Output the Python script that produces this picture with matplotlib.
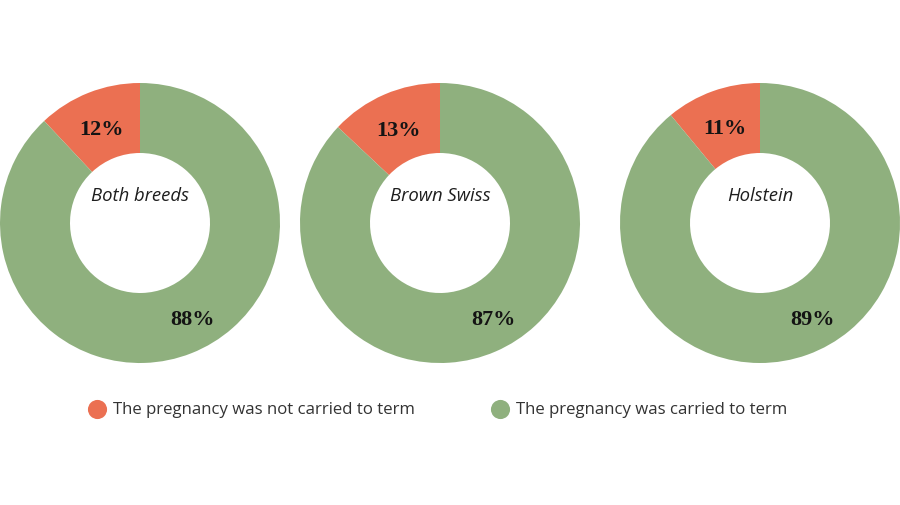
import numpy as np
import matplotlib.pyplot as plt

# share of pregnancies per breed group (percent)
groups = ['Both breeds', 'Brown Swiss', 'Holstein']
not_carried = [12, 13, 11]
carried = [88, 87, 89]
legend_labels = ['The pregnancy was not carried to term', 'The pregnancy was carried to term']

orange = '#EB7052'
green = '#8FB07E'

W, H = 900, 506
fig = plt.figure(figsize=(W / 100, H / 100), dpi=100)
fig.patch.set_facecolor('white')

centers_x = [140, 440, 760]
center_y = 224
R = 140  # outer radius in px

for i, name in enumerate(groups):
    cx = centers_x[i]
    ax = fig.add_axes([(cx - R) / W, (H - center_y - R) / H, 2 * R / W, 2 * R / H])
    vals = [not_carried[i], carried[i]]
    ax.pie(vals, colors=[orange, green], startangle=90, counterclock=True,
           radius=1, wedgeprops=dict(width=0.5, linewidth=0))
    ax.set_xlim(-1, 1)
    ax.set_ylim(-1, 1)
    ax.set_aspect('equal')
    ax.axis('off')

    # small slice label at its middle angle
    a = np.deg2rad(90 + not_carried[i] / 100 * 360 / 2)
    ax.text(0.75 * np.cos(a), 0.72 * np.sin(a), f'{not_carried[i]}%',
            ha='center', va='center', fontsize=16, fontweight='bold',
            family='Liberation Serif', color='#141414')
    # large slice label, lower right of the ring
    a = np.deg2rad(-61)
    ax.text(0.78 * np.cos(a), 0.78 * np.sin(a), f'{carried[i]}%',
            ha='center', va='center', fontsize=16, fontweight='bold',
            family='Liberation Serif', color='#141414')

    ax.text(0, 0.2, name, ha='center', va='center', fontsize=13.3,
            style='italic', family='Open Sans', color='#1e1e1e')

# legend drawn in a full-figure pixel axes
lax = fig.add_axes([0, 0, 1, 1])
lax.set_xlim(0, W)
lax.set_ylim(H, 0)
lax.axis('off')
ly = 410
for x0, col, lab in zip([97, 500], [orange, green], legend_labels):
    lax.scatter([x0], [ly], s=190, color=col, linewidths=0)
    lax.text(x0 + 16, ly, lab, ha='left', va='center',
             fontsize=12.1, family='Open Sans', color='#333333')

fig.savefig('out.png', dpi=100, facecolor='white')
